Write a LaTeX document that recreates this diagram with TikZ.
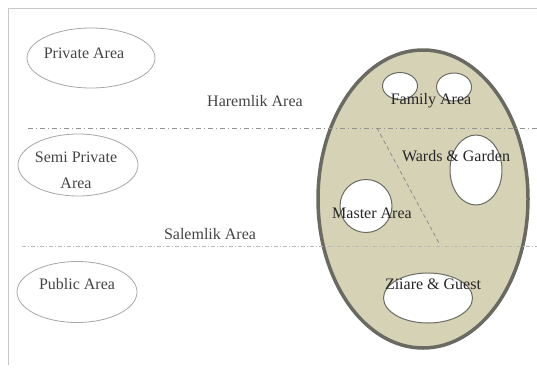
\documentclass[tikz,border=0pt]{standalone}
\usepackage{fontspec}
\setmainfont{Liberation Serif}
\usetikzlibrary{shapes.geometric}
\definecolor{tan}{HTML}{D6D2B6}
\definecolor{rim}{HTML}{6A6A62}
\definecolor{framegray}{HTML}{C8C8C8}
\definecolor{txt}{HTML}{444444}
\begin{document}
\begin{tikzpicture}[x=1pt,y=-1pt,
  zone/.style={ellipse,draw=gray!70,line width=0.8pt,inner sep=0pt},
  room/.style={ellipse,draw=rim,fill=white,line width=1pt,inner sep=0pt},
  lbl/.style={font=\fontsize{16}{19}\selectfont,text=txt,inner sep=0pt},
  rlbl/.style={font=\fontsize{16}{19}\selectfont,text=black!85,inner sep=0pt},
  divide/.style={draw=gray!85,line width=0.8pt,dash pattern=on 5pt off 3pt on 1pt off 3pt},
  divide2/.style={draw=gray!55,line width=0.8pt,dash pattern=on 4pt off 2pt on 1pt off 2pt},
  diag/.style={draw=gray!90,line width=0.8pt,dash pattern=on 4pt off 3pt}]
\useasboundingbox (0,0) rectangle (537,367);
% frame
\coordinate (f1) at (8,365);
\coordinate (f2) at (8,8);
\coordinate (f3) at (537,8);
\draw[framegray,line width=0.8pt] (f1) -- (f2) -- (f3);
% big ellipse
\node[ellipse,draw=rim,fill=tan,line width=3.5pt,minimum width=210,minimum height=298,inner sep=0pt] (big) at (423,199) {};
% divisions
\coordinate (d1a) at (28,128);
\coordinate (d1b) at (537,128);
\coordinate (d2a) at (22,246);
\coordinate (d2b) at (537,246);
\coordinate (g1) at (377,128);
\coordinate (g2) at (440,245);
\draw[divide] (d1a) -- (d1b);
\draw[divide2] (d2a) -- (d2b);
\draw[diag] (g1) -- (g2);
% left zones
\node[zone,minimum width=128,minimum height=60] (priv) at (91,58) {};
\node[lbl] (privt) at (84,53) {Private Area};
\node[zone,minimum width=120,minimum height=62] (semi) at (78,165) {};
\node[lbl,align=center,font=\fontsize{16}{26}\selectfont] (semit) at (76,170) {Semi Private\\Area};
\node[zone,minimum width=120,minimum height=61] (pub) at (77,292) {};
\node[lbl] (pubt) at (77,284) {Public Area};
\node[lbl] (harem) at (255,101) {Haremlik Area};
\node[lbl] (salem) at (210,234) {Salemlik Area};
% rooms
\node[room,minimum width=35,minimum height=27] (fam1) at (400,86) {};
\node[room,minimum width=35,minimum height=28] (fam2) at (454,87) {};
\node[rlbl] (famt) at (431,101) {Family Area};
\node[room,minimum width=52,minimum height=70] (ward) at (476,170) {};
\node[rlbl] (wardt) at (456,156) {Wards \& Garden};
\node[room,minimum width=52,minimum height=53] (mast) at (366,206) {};
\node[rlbl] (mastt) at (372,213) {Master Area};
\node[room,minimum width=89,minimum height=50] (ziy) at (428,298) {};
\node[rlbl] (ziyt) at (433,284) {Ziiare \& Guest};
\end{tikzpicture}
\end{document}
